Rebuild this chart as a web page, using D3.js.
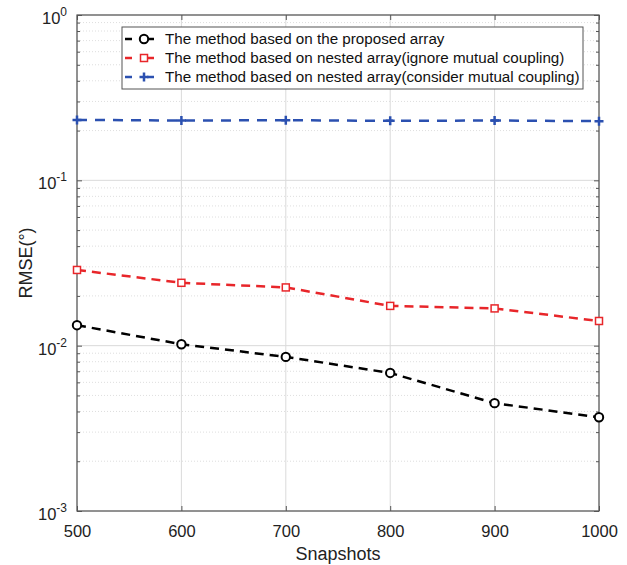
<!DOCTYPE html>
<html>
<head>
<meta charset="utf-8">
<script src="https://cdn.jsdelivr.net/npm/d3@7"></script>
<style>
  body { margin: 0; background: #fff; }
  svg { font-family: "Liberation Sans", Arial, sans-serif; }
</style>
</head>
<body>
<svg id="chart"></svg>
<script>
const width = 627, height = 565;
const margin = { top: 15, right: 28, bottom: 54, left: 77 };

// data
const snapshots = [500, 600, 700, 800, 900, 1000];
const proposed = [0.0133, 0.0102, 0.00855, 0.00684, 0.00449, 0.00369];
const nestedIgnore = [0.0287, 0.0240, 0.0225, 0.0174, 0.0168, 0.0141];
const nestedConsider = [0.232, 0.230, 0.231, 0.229, 0.230, 0.228];
const xTicks = [500, 600, 700, 800, 900, 1000];
const yDecades = [-3, -2, -1, 0];
const legendLabels = [
    "The method based on the proposed array",
    "The method based on nested array(ignore mutual coupling)",
    "The method based on nested array(consider mutual coupling)"
];

const series = [
    { values: proposed, color: "#000000", marker: "circle", dash: "9,6" },
    { values: nestedIgnore, color: "#e8262a", marker: "square", dash: "9,6" },
    { values: nestedConsider, color: "#2b50b0", marker: "plus", dash: "10,8" }
];

const svg = d3.select("#chart").attr("width", width).attr("height", height);
const iw = width - margin.left - margin.right;
const ih = height - margin.top - margin.bottom;

const x = d3.scaleLinear().domain([500, 1000]).range([margin.left, margin.left + iw]);
const y = d3.scaleLog().domain([1e-3, 1]).range([margin.top + ih, margin.top]);

const grid = svg.append("g");
// minor horizontal grid
const minors = [];
yDecades.slice(0, -1).forEach(e => {
    for (let k = 2; k <= 9; k++) minors.push(k * Math.pow(10, e));
});
grid.selectAll(".minor").data(minors).enter().append("line")
    .attr("x1", margin.left).attr("x2", margin.left + iw)
    .attr("y1", d => y(d)).attr("y2", d => y(d))
    .attr("stroke", "#d6d6d6").attr("stroke-width", 0.8)
    .attr("stroke-dasharray", "1,2");
// major grid
grid.selectAll(".hmaj").data(yDecades).enter().append("line")
    .attr("x1", margin.left).attr("x2", margin.left + iw)
    .attr("y1", d => y(Math.pow(10, d))).attr("y2", d => y(Math.pow(10, d)))
    .attr("stroke", "#dadada").attr("stroke-width", 1);
grid.selectAll(".vmaj").data(xTicks).enter().append("line")
    .attr("y1", margin.top).attr("y2", margin.top + ih)
    .attr("x1", d => x(d)).attr("x2", d => x(d))
    .attr("stroke", "#dadada").attr("stroke-width", 1);

// axes: ticks inward on all four sides
const tickLen = 5;
const axisColor = "#555";
svg.append("rect")
    .attr("x", margin.left).attr("y", margin.top)
    .attr("width", iw).attr("height", ih)
    .attr("fill", "none").attr("stroke", axisColor).attr("stroke-width", 1.2);

const xAxis = d3.axisBottom(x).tickValues(xTicks).tickSize(-tickLen).tickPadding(14).tickFormat(d3.format("d"));
svg.append("g").attr("transform", `translate(0,${margin.top + ih})`).call(xAxis)
    .call(g => g.select(".domain").remove())
    .call(g => g.selectAll("line").attr("stroke", axisColor))
    .call(g => g.selectAll("text").attr("font-size", 16.5).attr("fill", "#222")
        .attr("font-family", "Liberation Sans, Arial, sans-serif"));
svg.append("g").attr("transform", `translate(0,${margin.top})`)
    .call(d3.axisTop(x).tickValues(xTicks).tickSize(-tickLen).tickFormat(""))
    .call(g => g.select(".domain").remove())
    .call(g => g.selectAll("line").attr("stroke", axisColor));

const allY = yDecades.map(e => Math.pow(10, e)).concat(minors);
const yAxis = d3.axisLeft(y).tickValues(allY).tickSize(-tickLen).tickFormat("");
svg.append("g").attr("transform", `translate(${margin.left},0)`).call(yAxis)
    .call(g => g.select(".domain").remove())
    .call(g => g.selectAll("line").attr("stroke", axisColor)
        .attr("x2", d => Number.isInteger(Math.log10(d)) ? tickLen : 3));
svg.append("g").attr("transform", `translate(${margin.left + iw},0)`)
    .call(d3.axisRight(y).tickValues(allY).tickSize(-tickLen).tickFormat(""))
    .call(g => g.select(".domain").remove())
    .call(g => g.selectAll("line").attr("stroke", axisColor)
        .attr("x2", d => Number.isInteger(Math.log10(d)) ? -tickLen : -3));

// y tick labels as 10^e
const ylab = svg.append("g");
yDecades.forEach(e => {
    const t = ylab.append("text")
        .attr("x", margin.left - 10).attr("y", y(Math.pow(10, e)) + 9)
        .attr("text-anchor", "end").attr("font-size", 16.5).attr("fill", "#222");
    t.append("tspan").text("10");
    t.append("tspan").attr("dy", -8).attr("font-size", 12).text(e);
});

svg.append("text")
    .attr("x", margin.left + iw / 2).attr("y", height - 5)
    .attr("text-anchor", "middle").attr("font-size", 18).attr("fill", "#222")
    .text("Snapshots");
svg.append("text")
    .attr("transform", `translate(32,${margin.top + ih / 2}) rotate(-90)`)
    .attr("text-anchor", "middle").attr("font-size", 18).attr("fill", "#222")
    .text("RMSE(°)");

// lines
const line = d3.line().x((d, i) => x(snapshots[i])).y(d => y(d));

const drawMarker = (g, type, color, cx, cy) => {
    if (type === "circle") {
        g.append("circle").attr("cx", cx).attr("cy", cy).attr("r", 4.2)
            .attr("fill", "#fff").attr("stroke", color).attr("stroke-width", 2);
    } else if (type === "square") {
        g.append("rect").attr("x", cx - 3.5).attr("y", cy - 3.5)
            .attr("width", 7).attr("height", 7)
            .attr("fill", "#fff").attr("stroke", color).attr("stroke-width", 1.5);
    } else {
        g.append("path").attr("d", `M${cx - 4.5},${cy}H${cx + 4.5}M${cx},${cy - 4.5}V${cy + 4.5}`)
            .attr("stroke", color).attr("stroke-width", 2.5);
    }
};

series.forEach(s => {
    const g = svg.append("g");
    g.append("path").datum(s.values).attr("d", line)
        .attr("fill", "none").attr("stroke", s.color)
        .attr("stroke-width", 2.5).attr("stroke-dasharray", s.dash);
    s.values.forEach((v, i) => drawMarker(g, s.marker, s.color, x(snapshots[i]), y(v)));
});

// legend
const lg = svg.append("g").attr("transform", "translate(122,27)");
lg.append("rect").attr("width", 461).attr("height", 62)
    .attr("fill", "#fff").attr("stroke", "#555").attr("stroke-width", 1);
series.forEach((s, i) => {
    const cy = 12 + i * 19;
    lg.append("line").attr("x1", 3).attr("x2", 10).attr("y1", cy).attr("y2", cy)
        .attr("stroke", s.color).attr("stroke-width", 2.5);
    lg.append("line").attr("x1", 25).attr("x2", 32).attr("y1", cy).attr("y2", cy)
        .attr("stroke", s.color).attr("stroke-width", 2.5);
    drawMarker(lg, s.marker, s.color, 22, cy);
    lg.append("text").attr("x", 43).attr("y", cy + 5)
        .attr("font-size", 15.2).attr("fill", "#111").text(legendLabels[i]);
});
</script>
</body>
</html>
